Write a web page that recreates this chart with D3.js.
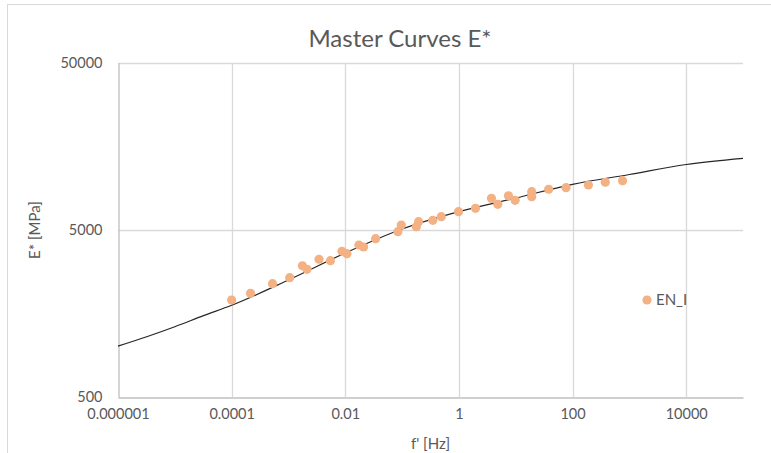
<!DOCTYPE html>
<html>
<head>
<meta charset="utf-8">
<script src="https://cdn.jsdelivr.net/npm/d3@7"></script>
<style>
body { margin: 0; background: #fff; }
text { font-family: Lato, 'Liberation Sans', sans-serif; fill: #595959; }
</style>
</head>
<body>
<script>
var width = 771;
var height = 453;

var xTicks = [0.000001, 0.0001, 0.01, 1, 100, 10000];
var xTickLabels = ['0.000001', '0.0001', '0.01', '1', '100', '10000'];
var yTicks = [500, 5000, 50000];
var yTickLabels = ['500', '5000', '50000'];

// model curve
var curveFreq = [0.000001, 0.0000032, 0.00001, 0.000032, 0.0001, 0.001, 0.01, 0.1, 1, 10, 100, 1000, 10000, 100000];
var curveModulus = [1009, 1148, 1318, 1535, 1770, 2510, 3641, 5070, 6440, 7760, 9390, 10750, 12340, 13440];

// measured points EN_I
var pointFreq = [0.0001, 0.000215, 0.000524, 0.00105, 0.00176, 0.00212, 0.00345, 0.00547, 0.00875, 0.0107,
  0.0174, 0.021, 0.0342, 0.0843, 0.0968, 0.178, 0.195, 0.347, 0.489, 0.984,
  1.96, 3.74, 4.83, 7.45, 9.76, 19.1, 19.1, 38, 76.9, 190, 377, 759];
var pointModulus = [1905, 2089, 2384, 2590, 3055, 2909, 3340, 3275, 3727, 3607,
  4066, 3956, 4436, 4887, 5358, 5233, 5607, 5716, 6010, 6440,
  6745, 7740, 7125, 8020, 7530, 8480, 7910, 8770, 8960, 9300, 9660, 9870];

var margin = { left: 118, right: 28, top: 63, bottom: 56 };

var x = d3.scaleLog().domain([0.000001, 100000]).range([margin.left, width - margin.right]);
var y = d3.scaleLog().domain([500, 50000]).range([height - margin.bottom, margin.top]);

var svg = d3.select('body').append('svg').attr('width', width).attr('height', height);

// chart frame
svg.append('rect').attr('x', 7.5).attr('y', 4.5).attr('width', 800).attr('height', 500)
  .attr('fill', 'none').attr('stroke', '#d9d9d9');

// gridlines
svg.append('g').selectAll('line').data(xTicks.slice(1)).enter().append('line')
  .attr('x1', function (d) { return Math.round(x(d)) + 0.5; })
  .attr('x2', function (d) { return Math.round(x(d)) + 0.5; })
  .attr('y1', y(50000)).attr('y2', y(500))
  .attr('stroke', '#d9d9d9').attr('stroke-width', 1.3);
svg.append('g').selectAll('line').data(yTicks.slice(1)).enter().append('line')
  .attr('x1', x(0.000001)).attr('x2', x(100000))
  .attr('y1', function (d) { return Math.round(y(d)) + 0.5; })
  .attr('y2', function (d) { return Math.round(y(d)) + 0.5; })
  .attr('stroke', '#d9d9d9').attr('stroke-width', 1.3);

// axes
var xAxis = svg.append('g').attr('transform', 'translate(0,' + (Math.round(y(500)) + 0.5) + ')')
  .call(d3.axisBottom(x).tickValues(xTicks).tickSize(0).tickPadding(11)
    .tickFormat(function (d, i) { return xTickLabels[i]; }));
var yAxis = svg.append('g').attr('transform', 'translate(' + (Math.round(x(0.000001)) + 0.5) + ',0)')
  .call(d3.axisLeft(y).tickValues(yTicks).tickSize(0).tickPadding(16)
    .tickFormat(function (d, i) { return yTickLabels[i]; }));
[xAxis, yAxis].forEach(function (g) {
  g.select('.domain').attr('stroke', '#bfbfbf').attr('stroke-width', 1.3);
  g.selectAll('text').attr('font-family', null).attr('font-size', 14.5).style('fill', '#595959');
});
yAxis.selectAll('text').attr('dy', '0.3em');

// curve
var line = d3.line()
  .x(function (d, i) { return x(curveFreq[i]); })
  .y(function (d) { return y(d); })
  .curve(d3.curveMonotoneX);
svg.append('path').datum(curveModulus).attr('d', line)
  .attr('fill', 'none').attr('stroke', '#262626').attr('stroke-width', 1.2);

// points
svg.append('g').selectAll('circle').data(pointModulus).enter().append('circle')
  .attr('cx', function (d, i) { return x(pointFreq[i]); })
  .attr('cy', function (d) { return y(d); })
  .attr('r', 4.6).attr('fill', '#f4b183');

// title
svg.append('text').attr('x', 400).attr('y', 47).attr('text-anchor', 'middle')
  .attr('font-size', 24).text('Master Curves E*');

// axis titles
svg.append('text').attr('x', (margin.left + width - margin.right) / 2).attr('y', 449)
  .attr('text-anchor', 'middle').attr('font-size', 15).text("f' [Hz]");
svg.append('text').attr('transform', 'translate(40,' + (margin.top + height - margin.bottom) / 2 + ') rotate(-90)')
  .attr('text-anchor', 'middle').attr('font-size', 15).text('E* [MPa]');

// legend
var legend = svg.append('g').attr('transform', 'translate(647,300)');
legend.append('circle').attr('r', 4.6).attr('fill', '#f4b183');
legend.append('text').attr('x', 9).attr('y', 5).attr('font-size', 15).text('EN_I');
</script>
</body>
</html>
